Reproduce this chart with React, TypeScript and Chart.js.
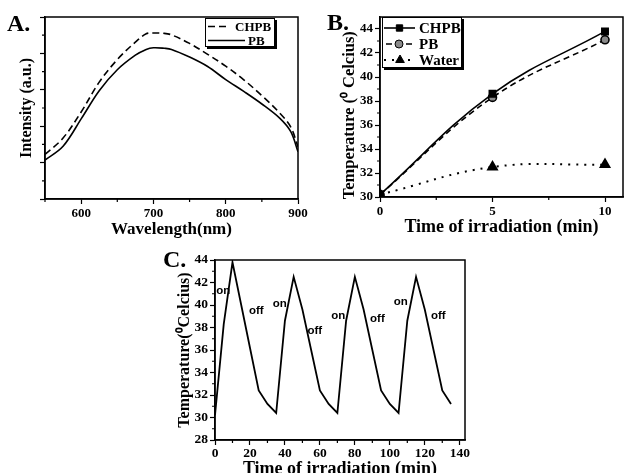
import React, { useEffect, useRef } from 'react';
import { Chart, registerables } from 'chart.js';
import { drawPoint } from 'chart.js/helpers';

Chart.register(...registerables);

// ---------- Panel A: emission spectra ----------
const wavelengths = [550, 575, 600, 625, 650, 675, 690, 700, 715, 725, 750, 775, 800, 825, 850, 875, 890, 900];
const intensityCHPB = [2.45, 3.35, 4.78, 6.42, 7.66, 8.62, 9.08, 9.12, 9.1, 9.02, 8.55, 7.95, 7.3, 6.55, 5.68, 4.71, 3.95, 2.87];
const intensityPB = [2.14, 2.9, 4.4, 5.95, 7.1, 7.9, 8.22, 8.31, 8.28, 8.22, 7.8, 7.28, 6.56, 5.91, 5.22, 4.43, 3.7, 2.6];
const wavelengthTicks = [600, 700, 800, 900];
const wavelengthMinorTicks = [550, 650, 750, 850];
const intensityTicks = [0, 2, 4, 6, 8, 10];
const intensityMinorTicks = [1, 3, 5, 7, 9];

// ---------- Panel B: heating curves ----------
const irradiationTimes = [0, 5, 10];
const tempCHPB = [30.2, 38.6, 43.8];
const tempPB = [30.2, 38.3, 43.1];
const tempWater = [30.2, 32.5, 32.7];
const timeTicksB = [0, 5, 10];
const timeMinorTicksB = [2.5, 7.5];
const tempTicksB = [30, 32, 34, 36, 38, 40, 42, 44];
const tempMinorTicksB = [31, 33, 35, 37, 39, 41, 43];

// ---------- Panel C: on/off cycles ----------
const cycleTimes = [0, 5, 10, 15, 20, 25, 30, 35, 40, 45, 50, 55, 60, 65, 70, 75, 80, 85, 90, 95, 100, 105, 110, 115, 120, 125, 130, 135];
const cycleTemps = [30.2, 38.3, 43.8, 40.0, 36.2, 32.4, 31.2, 30.4, 38.6, 42.5, 39.6, 36.0, 32.4, 31.2, 30.4, 38.6, 42.5, 39.6, 36.0, 32.4, 31.2, 30.4, 38.6, 42.5, 39.6, 36.0, 32.4, 31.2];
const cycleTimeTicks = [0, 20, 40, 60, 80, 100, 120, 140];
const cycleTimeMinorTicks = [10, 30, 50, 70, 90, 110, 130];
const cycleTempTicks = [28, 30, 32, 34, 36, 38, 40, 42, 44];
const cycleTempMinorTicks = [29, 31, 33, 35, 37, 39, 41, 43];
const switchLabels = ['on', 'off', 'on', 'off', 'on', 'off', 'on', 'off'];
const switchLabelTimes = [4.7, 23.6, 37.1, 57.1, 70.5, 92.9, 106.3, 127.7];
const switchLabelTemps = [41.24, 39.47, 40.09, 37.72, 39.08, 38.81, 40.3, 39.05];

const SERIF = "'Liberation Serif', 'Times New Roman', serif";
const SANS = "'Liberation Sans', Arial, sans-serif";

const framePlugin = {
  id: 'frame',
  afterDraw(chart: any, _args: any, o: any) {
    const { ctx, chartArea: a } = chart;
    ctx.save();
    ctx.strokeStyle = '#000';
    ctx.lineWidth = 1.5;
    ctx.strokeRect(a.left, a.top, a.right - a.left, a.bottom - a.top);
    const len = o.minorLength ?? 3;
    ctx.lineWidth = 1.2;
    ctx.beginPath();
    (o.xMinor || []).forEach((v: number) => {
      const px = chart.scales.x.getPixelForValue(v);
      ctx.moveTo(px, a.bottom);
      ctx.lineTo(px, a.bottom + len);
    });
    (o.yMinor || []).forEach((v: number) => {
      const py = chart.scales.y.getPixelForValue(v);
      ctx.moveTo(a.left, py);
      ctx.lineTo(a.left - len, py);
    });
    ctx.stroke();
    ctx.restore();
  },
};

const boxLegendPlugin = {
  id: 'boxLegend',
  afterDraw(chart: any, _args: any, o: any) {
    if (!o || !o.items) return;
    const ctx = chart.ctx;
    ctx.save();
    ctx.fillStyle = '#000';
    ctx.fillRect(o.left + o.shadow, o.top + o.shadow, o.width, o.height);
    ctx.fillStyle = '#fff';
    ctx.fillRect(o.left, o.top, o.width, o.height);
    ctx.strokeStyle = '#000';
    ctx.lineWidth = 1;
    ctx.strokeRect(o.left + 0.5, o.top + 0.5, o.width - 1, o.height - 1);
    o.items.forEach((it: any, i: number) => {
      const ds = chart.data.datasets[it.dataset];
      const y = o.top + o.firstRow + i * o.rowGap;
      ctx.strokeStyle = '#000';
      ctx.lineWidth = ds.borderWidth;
      ctx.setLineDash(ds.borderDash || []);
      ctx.beginPath();
      ctx.moveTo(it.x0, y);
      ctx.lineTo(it.x1, y);
      ctx.stroke();
      ctx.setLineDash([]);
      if (ds.pointRadius > 0) {
        ctx.fillStyle = ds.pointBackgroundColor;
        ctx.strokeStyle = '#000';
        ctx.lineWidth = 1;
        drawPoint(ctx, { pointStyle: ds.pointStyle, radius: ds.pointRadius, borderWidth: 1, rotation: 0 } as any, (it.x0 + it.x1) / 2, y);
      }
      ctx.fillStyle = '#000';
      ctx.font = o.font;
      ctx.textBaseline = 'middle';
      ctx.textAlign = 'left';
      ctx.fillText(ds.label, it.textX, y + 1);
    });
    ctx.restore();
  },
};

const switchLabelPlugin = {
  id: 'switchLabels',
  afterDatasetsDraw(chart: any, _args: any, o: any) {
    if (!o || !o.texts) return;
    const ctx = chart.ctx;
    ctx.save();
    ctx.fillStyle = '#000';
    ctx.font = o.font;
    ctx.textAlign = 'center';
    ctx.textBaseline = 'middle';
    o.texts.forEach((t: string, i: number) => {
      ctx.fillText(t, chart.scales.x.getPixelForValue(o.xs[i]), chart.scales.y.getPixelForValue(o.ys[i]));
    });
    ctx.restore();
  },
};

function fixedTicks(values: number[]) {
  return (s: any) => {
    s.ticks = values.map((v) => ({ value: v }));
  };
}

function axisCommon(fontSize: number, showLabels = true, pad = 2) {
  return {
    grid: { drawOnChartArea: false, drawTicks: true, tickLength: 5, tickColor: '#000', tickWidth: 1.2 },
    border: { display: true, color: '#000', width: 1.5 },
    ticks: {
      display: showLabels,
      color: '#000',
      font: { family: SERIF, size: fontSize, weight: 'bold' as const },
      padding: pad,
      maxRotation: 0,
      autoSkip: false,
    },
  };
}

const baseOptions = {
  responsive: false,
  animation: false as const,
  devicePixelRatio: 1,
  events: [] as any[],
};

function configA(): any {
  return {
    type: 'line',
    data: {
      datasets: [
        {
          label: 'CHPB',
          data: wavelengths.map((w, i) => ({ x: w, y: intensityCHPB[i] })),
          borderColor: '#000',
          borderWidth: 1.6,
          borderDash: [7, 4],
          pointRadius: 0,
          tension: 0.35,
        },
        {
          label: 'PB',
          data: wavelengths.map((w, i) => ({ x: w, y: intensityPB[i] })),
          borderColor: '#000',
          borderWidth: 1.6,
          pointRadius: 0,
          tension: 0.35,
        },
      ],
    },
    options: {
      ...baseOptions,
      layout: { padding: { left: 0, right: 12, top: 17, bottom: 0 } },
      plugins: {
        legend: { display: false },
        tooltip: { enabled: false },
        frame: { xMinor: wavelengthMinorTicks, yMinor: intensityMinorTicks, minorLength: 3 },
        boxLegend: {
          left: 205, top: 18, width: 70, height: 29, shadow: 2,
          firstRow: 8.5, rowGap: 14, font: `bold 13px ${SERIF}`,
          items: [
            { dataset: 0, x0: 208, x1: 230, textX: 235 },
            { dataset: 1, x0: 208, x1: 245, textX: 248 },
          ],
        },
      },
      scales: {
        x: {
          type: 'linear', min: 550, max: 900,
          afterBuildTicks: fixedTicks(wavelengthTicks),
          afterFit: (s: any) => { s.height = 41; },
          ...axisCommon(13),
          title: { display: true, text: 'Wavelength(nm)', color: '#000', font: { family: SERIF, size: 17, weight: 'bold', lineHeight: 1 }, padding: { top: 0, bottom: 1.5 } },
        },
        y: {
          type: 'linear', min: 0, max: 10,
          afterBuildTicks: fixedTicks(intensityTicks),
          afterFit: (s: any) => { s.width = 45; },
          ...axisCommon(13, false),
          title: { display: true, text: 'Intensity (a.u.)', color: '#000', font: { family: SERIF, size: 16, weight: 'bold', lineHeight: 1 }, padding: { top: 19, bottom: 0 } },
        },
      },
    },
    plugins: [framePlugin, boxLegendPlugin],
  };
}

function configB(): any {
  return {
    type: 'line',
    data: {
      datasets: [
        {
          label: 'CHPB',
          data: irradiationTimes.map((t, i) => ({ x: t, y: tempCHPB[i] })),
          borderColor: '#000', borderWidth: 1.6, tension: 0.4,
          pointStyle: 'rect', pointRadius: 4.5, pointBackgroundColor: '#000', pointBorderColor: '#000',
        },
        {
          label: 'PB',
          data: irradiationTimes.map((t, i) => ({ x: t, y: tempPB[i] })),
          borderColor: '#000', borderWidth: 1.6, borderDash: [6, 4], tension: 0.4,
          pointStyle: 'circle', pointRadius: 4, pointBackgroundColor: '#8a8a8a', pointBorderColor: '#000',
        },
        {
          label: 'Water',
          data: irradiationTimes.map((t, i) => ({ x: t, y: tempWater[i] })),
          borderColor: '#000', borderWidth: 2, borderDash: [2, 6], tension: 0.4,
          pointStyle: 'triangle', pointRadius: 5, pointBackgroundColor: '#000', pointBorderColor: '#000',
        },
      ],
    },
    options: {
      ...baseOptions,
      layout: { padding: { left: 0, right: 3, top: 17, bottom: 0 } },
      plugins: {
        legend: { display: false },
        tooltip: { enabled: false },
        frame: { xMinor: timeMinorTicksB, yMinor: tempMinorTicksB, minorLength: 3 },
        boxLegend: {
          left: 72, top: 17, width: 80, height: 51, shadow: 2,
          firstRow: 11, rowGap: 16, font: `bold 15px ${SERIF}`,
          items: [
            { dataset: 0, x0: 74, x1: 105, textX: 109 },
            { dataset: 1, x0: 76, x1: 102, textX: 109 },
            { dataset: 2, x0: 74, x1: 106, textX: 109 },
          ],
        },
      },
      scales: {
        x: {
          type: 'linear', min: 0, max: 10.8,
          afterBuildTicks: fixedTicks(timeTicksB),
          afterFit: (s: any) => { s.height = 43; },
          ...axisCommon(13),
          title: { display: true, text: 'Time of irradiation (min)', color: '#000', font: { family: SERIF, size: 18, weight: 'bold', lineHeight: 1 }, padding: { top: 0, bottom: 4 } },
        },
        y: {
          type: 'linear', min: 30, max: 45,
          afterBuildTicks: fixedTicks(tempTicksB),
          afterFit: (s: any) => { s.width = 70; },
          ...axisCommon(13),
          title: { display: true, text: 'Temperature (\u2070 Celcius)    ', color: '#000', font: { family: SERIF, size: 16.5, weight: 'bold', lineHeight: 1 }, padding: { top: 31, bottom: 0 } },
        },
      },
    },
    plugins: [framePlugin, boxLegendPlugin],
  };
}

function configC(): any {
  return {
    type: 'line',
    data: {
      datasets: [
        {
          label: 'Temperature',
          data: cycleTimes.map((t, i) => ({ x: t, y: cycleTemps[i] })),
          borderColor: '#000', borderWidth: 1.8, pointRadius: 0, tension: 0,
        },
      ],
    },
    options: {
      ...baseOptions,
      layout: { padding: { left: 0, right: 15, top: 20, bottom: 0 } },
      plugins: {
        legend: { display: false },
        tooltip: { enabled: false },
        frame: { xMinor: cycleTimeMinorTicks, yMinor: cycleTempMinorTicks, minorLength: 3 },
        switchLabels: { texts: switchLabels, xs: switchLabelTimes, ys: switchLabelTemps, font: `bold 11.5px ${SANS}` },
      },
      scales: {
        x: {
          type: 'linear', min: 0, max: 143,
          afterBuildTicks: fixedTicks(cycleTimeTicks),
          afterFit: (s: any) => { s.height = 40; },
          ...axisCommon(13.5, true, 0),
          title: { display: true, text: 'Time of irradiation (min)', color: '#000', font: { family: SERIF, size: 18, weight: 'bold', lineHeight: 1 }, padding: { top: 0, bottom: 2 } },
        },
        y: {
          type: 'linear', min: 28, max: 44,
          afterBuildTicks: fixedTicks(cycleTempTicks),
          afterFit: (s: any) => { s.width = 65; },
          ...axisCommon(13.5),
          title: { display: true, text: 'Temperature(\u2070Celcius)', color: '#000', font: { family: SERIF, size: 16, weight: 'bold', lineHeight: 1 }, padding: { top: 27, bottom: 0 } },
        },
      },
    },
    plugins: [framePlugin, switchLabelPlugin],
  };
}

function ChartCanvas(props: { make: () => any; left: number; top: number; width: number; height: number }) {
  const ref = useRef<HTMLCanvasElement>(null);
  useEffect(() => {
    const chart = new Chart(ref.current as HTMLCanvasElement, props.make());
    return () => chart.destroy();
  }, []);
  return (
    <canvas
      ref={ref}
      width={props.width}
      height={props.height}
      style={{ position: 'absolute', left: props.left, top: props.top, width: props.width, height: props.height }}
    />
  );
}

const letterStyle: React.CSSProperties = {
  position: 'absolute',
  fontFamily: SERIF,
  fontWeight: 'bold',
  fontSize: 24,
  lineHeight: '24px',
  color: '#000',
  margin: 0,
};

export default function App() {
  return (
    <div style={{ position: 'fixed', left: 0, top: 0, width: 630, height: 473, overflow: 'hidden', background: '#fff' }}>
      <ChartCanvas make={configA} left={0} top={0} width={310} height={240} />
      <ChartCanvas make={configB} left={310} top={0} width={320} height={240} />
      <ChartCanvas make={configC} left={150} top={240} width={330} height={240} />
      <div style={{ ...letterStyle, left: 7, top: 11 }}>A.</div>
      <div style={{ ...letterStyle, left: 327, top: 10 }}>B.</div>
      <div style={{ ...letterStyle, left: 163, top: 247 }}>C.</div>
    </div>
  );
}
